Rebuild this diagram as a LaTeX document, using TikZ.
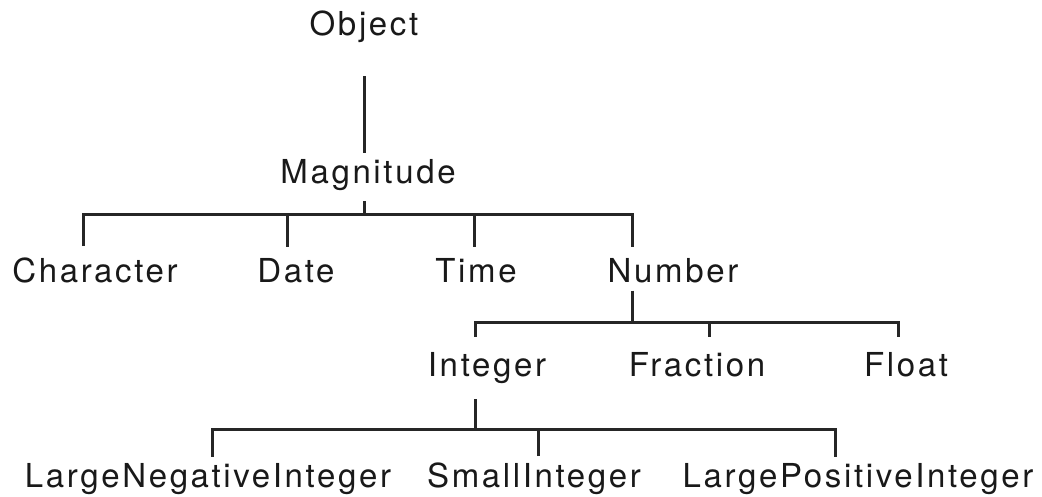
\documentclass[tikz,border=0pt]{standalone}
\usepackage{fontspec}
\newfontfamily\classfont{TeX Gyre Heros}[LetterSpace=8]
\begin{document}
\begin{tikzpicture}[x=1pt, y=-1pt,
            class/.style={font=\classfont\fontsize{33}{40}\selectfont, inner sep=0pt, anchor=base, text=black!90},
            link/.style={line width=3pt, draw=black!85}
            ]
            \useasboundingbox (0,0) rectangle (1042,496);
            \node[class] (object) at (364,35) {Object};
            \node[class] (magnitude) at (368,183) {Magnitude};
            \node[class] (character) at (95,282) {Character};
            \node[class] (date) at (296,282) {Date};
            \node[class] (time) at (476,282) {Time};
            \node[class] (number) at (673,282) {Number};
            \node[class] (integer) at (487,376) {Integer};
            \node[class] (fraction) at (697,376) {Fraction};
            \node[class] (float) at (906,376) {Float};
            \node[class] (largeneg) at (208,487) {LargeNegativeInteger};
            \node[class] (small) at (534,487) {SmallInteger};
            \node[class] (largepos) at (858,487) {LargePositiveInteger};

            \coordinate (magbar) at (364,214);
            \coordinate (numbar) at (632,322);
            \coordinate (intbar) at (475,429);

            \draw[link] ([yshift=-34pt]object.south) -- ([xshift=-4pt, yshift=6pt]magnitude.north);
            \draw[link] ([xshift=-4pt, yshift=-11pt]magnitude.south) -- (magbar);
            \draw[link] ([xshift=-12pt, yshift=11pt]character.north) |- (magbar) -| ([xshift=-41pt, yshift=11pt]number.north);
            \draw[link] ([xshift=-9pt, yshift=11pt]date.north) |- (magbar);
            \draw[link] ([xshift=-2pt, yshift=11pt]time.north) |- (magbar);

            \draw[link] ([xshift=-41pt, yshift=-8pt]number.south) -- (numbar);
            \draw[link] ([xshift=-12pt, yshift=15pt]integer.north) |- (numbar) -| ([xshift=-8pt, yshift=15pt]float.north);
            \draw[link] ([xshift=12pt, yshift=15pt]fraction.north) |- (numbar);

            \draw[link] ([xshift=-12pt, yshift=-16pt]integer.south) -- (intbar);
            \draw[link] ([xshift=4pt, yshift=6pt]largeneg.north) |- (intbar) -| ([xshift=-23pt, yshift=6pt]largepos.north);
            \draw[link] ([xshift=4pt, yshift=6pt]small.north) |- (intbar);
            \end{tikzpicture}
\end{document}
